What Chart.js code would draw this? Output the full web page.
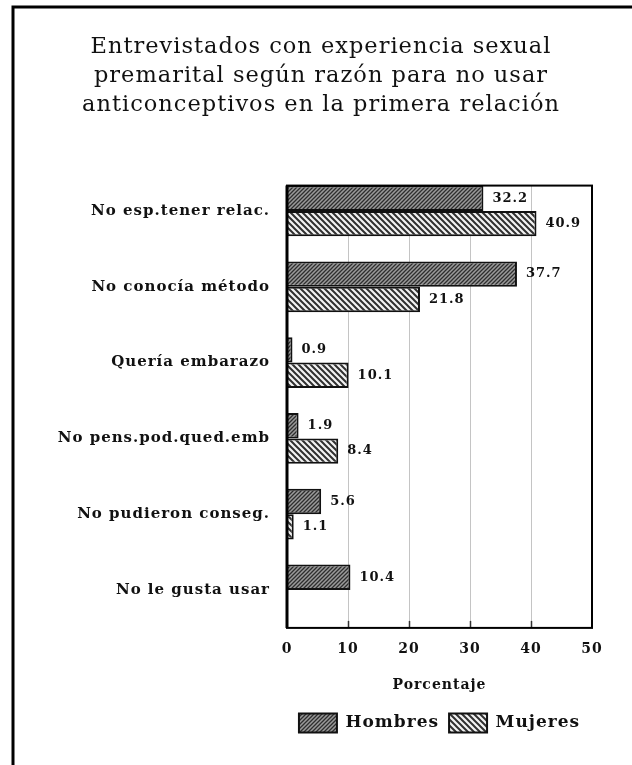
<!DOCTYPE html>
<html>
<head>
<meta charset="utf-8">
<script src="https://cdn.jsdelivr.net/npm/chart.js@4/dist/chart.umd.min.js"></script>
<style>
  html, body { margin: 0; padding: 0; background: #fff; overflow: hidden; }
  canvas { display: block; }
</style>
</head>
<body>
<canvas id="chart" width="632" height="765"></canvas>
<script>
/*==== data ====*/
const categories = [
    'No esp.tener relac.',
    'No conocía método',
    'Quería embarazo',
    'No pens.pod.qued.emb',
    'No pudieron conseg.',
    'No le gusta usar'
];
const hombres = [32.2, 37.7, 0.9, 1.9, 5.6, 10.4];
const mujeres = [40.9, 21.8, 10.1, 8.4, 1.1, null];
const xTicks = [0, 10, 20, 30, 40, 50];
const titleLines = [
    'Entrevistados con experiencia sexual',
    'premarital según razón para no usar',
    'anticonceptivos en la primera relación'
];

const serif = "'DejaVu Serif', 'Liberation Serif', serif";
const ink = '#111';

const canvas = document.getElementById('chart');
const ctx = canvas.getContext('2d');

// hatch fill: forward = '/', otherwise '\'
function hatch(bg, line, size, width, forward) {
    const c = document.createElement('canvas');
    c.width = c.height = size;
    const g = c.getContext('2d');
    g.fillStyle = bg;
    g.fillRect(0, 0, size, size);
    g.strokeStyle = line;
    g.lineWidth = width;
    g.beginPath();
    if (forward) {
        g.moveTo(0, size); g.lineTo(size, 0);
        g.moveTo(-size / 2, size / 2); g.lineTo(size / 2, -size / 2);
        g.moveTo(size / 2, size * 1.5); g.lineTo(size * 1.5, size / 2);
    } else {
        g.moveTo(0, 0); g.lineTo(size, size);
        g.moveTo(-size / 2, size / 2); g.lineTo(size / 2, size * 1.5);
        g.moveTo(size / 2, -size / 2); g.lineTo(size * 1.5, size / 2);
    }
    g.stroke();
    return ctx.createPattern(c, 'repeat');
}

const fillHombres = hatch('#9a9a9a', '#2e2e2e', 4, 1.3, true);
const fillMujeres = hatch('#f2f2f2', '#303030', 6, 2, false);

/*==== plugins ====*/
// wide typewriter-like spacing for all text
const spacing = {
    id: 'spacing',
    beforeLayout(chart) { chart.ctx.letterSpacing = '1px'; },
    beforeDraw(chart) { chart.ctx.letterSpacing = '1px'; }
};

// page background + outer frame, grid, plot frame, value labels
const decor = {
    id: 'decor',
    beforeDraw(chart) {
        const c = chart.ctx;
        c.save();
        c.fillStyle = '#fff';
        c.fillRect(0, 0, chart.width, chart.height);
        c.strokeStyle = '#000';
        c.lineWidth = 3;
        c.beginPath();
        c.moveTo(13, chart.height);
        c.lineTo(13, 7);
        c.lineTo(chart.width, 7);
        c.stroke();
        c.restore();
    },
    beforeDatasetsDraw(chart) {
        const c = chart.ctx;
        const x = chart.scales.x;
        const first = chart.getDatasetMeta(0).data[0];
        const top = first.y - first.height / 2;
        const bottom = chart.chartArea.bottom;
        c.save();
        x.ticks.forEach(t => {
            if (t.value === x.min || t.value === x.max) return;
            const px = Math.round(x.getPixelForValue(t.value)) + 0.5;
            c.strokeStyle = '#c4c4c4';
            c.lineWidth = 1;
            c.beginPath();
            c.moveTo(px, top);
            c.lineTo(px, bottom);
            c.stroke();
            c.strokeStyle = '#333';
            c.lineWidth = 1.5;
            c.beginPath();
            c.moveTo(px, bottom);
            c.lineTo(px, bottom - 7);
            c.stroke();
        });
        c.restore();
    },
    afterDatasetsDraw(chart) {
        const c = chart.ctx;
        const x = chart.scales.x;
        const first = chart.getDatasetMeta(0).data[0];
        const top = first.y - first.height / 2;
        const left = x.getPixelForValue(x.min);
        const right = x.getPixelForValue(x.max);
        const bottom = chart.chartArea.bottom;
        c.save();
        c.strokeStyle = '#000';
        c.lineWidth = 2;
        c.strokeRect(left, top, right - left, bottom - top);
        c.beginPath();
        c.lineWidth = 3;
        c.moveTo(left, top);
        c.lineTo(left, bottom);
        c.stroke();

        c.fillStyle = ink;
        c.font = 'bold 13px ' + serif;
        c.textBaseline = 'middle';
        c.textAlign = 'left';
        chart.data.datasets.forEach((ds, i) => {
            chart.getDatasetMeta(i).data.forEach((bar, j) => {
                const v = ds.data[j];
                if (v === null || v === undefined) return;
                c.fillText(v.toFixed(1), bar.x + 9, bar.y);
            });
        });
        c.restore();
    }
};

/*==== chart ====*/
const chart = new Chart(canvas, {
    type: 'bar',
    data: {
        labels: categories,
        datasets: [
            {
                label: 'Hombres',
                data: hombres,
                backgroundColor: fillHombres,
                borderColor: ink,
                borderWidth: 2
            },
            {
                label: 'Mujeres',
                data: mujeres,
                backgroundColor: fillMujeres,
                borderColor: ink,
                borderWidth: 2
            }
        ]
    },
    options: {
        indexAxis: 'y',
        responsive: false,
        animation: false,
        events: [],
        categoryPercentage: 0.67,
        barPercentage: 1,
        layout: { padding: { left: 50, right: 40, top: 0, bottom: 22.5 } },
        scales: {
            x: {
                min: xTicks[0],
                max: xTicks[xTicks.length - 1],
                grid: { display: false, drawTicks: false },
                border: { display: false },
                ticks: {
                    stepSize: 10,
                    padding: 13,
                    color: ink,
                    font: { family: serif, size: 14, weight: 'bold', lineHeight: 1.2 }
                },
                title: {
                    display: true,
                    text: 'Porcentaje',
                    color: ink,
                    font: { family: serif, size: 14, weight: 'bold', lineHeight: 1.2 },
                    padding: { top: 6, bottom: 10 }
                }
            },
            y: {
                grid: { display: false, drawTicks: false },
                border: { display: false },
                ticks: {
                    padding: 17,
                    color: ink,
                    font: { family: serif, size: 15, weight: 'bold', lineHeight: 1.2 }
                },
                afterFit(scale) { scale.width = 237; }
            }
        },
        plugins: {
            title: {
                display: true,
                text: titleLines,
                color: ink,
                font: { family: serif, size: 22.5, weight: 'normal', lineHeight: 1.29 },
                padding: { top: 33, bottom: 53 }
            },
            legend: {
                position: 'bottom',
                fullSize: false,
                labels: {
                    boxWidth: 38,
                    boxHeight: 19,
                    padding: 10,
                    color: ink,
                    font: { family: serif, size: 17, weight: 'bold' }
                }
            },
            tooltip: { enabled: false }
        }
    },
    plugins: [spacing, decor]
});
</script>
</body>
</html>
